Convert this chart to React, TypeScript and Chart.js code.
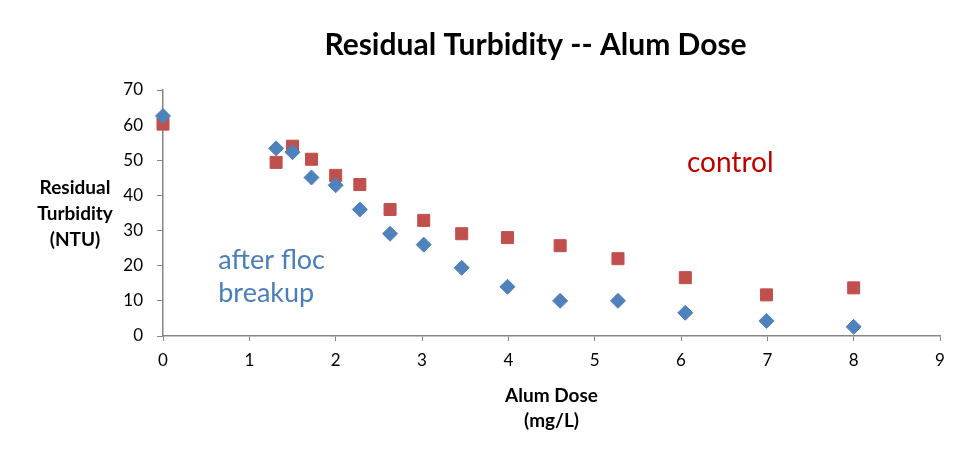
import { useEffect, useRef } from 'react';
import Chart from 'chart.js/auto';
import type { Plugin } from 'chart.js';

// alum dose (mg/L) for each jar
const doses = [0, 1.31, 1.5, 1.72, 2.0, 2.28, 2.63, 3.02, 3.46, 3.99, 4.6, 5.27, 6.05, 6.99, 8.0];

// residual turbidity (NTU)
const afterBreakup = [62.6, 53.4, 52.3, 45.1, 42.9, 36, 29.1, 26, 19.4, 14, 10, 10, 6.6, 4.3, 2.6];
const control = [60.3, 49.4, 54, 50.3, 45.7, 43.1, 36, 32.9, 29.1, 28, 25.7, 22, 16.6, 11.7, 13.7];

const chartTitle = 'Residual Turbidity -- Alum Dose';
const yTitleLines = ['Residual', 'Turbidity', '(NTU)'];
const xTitleLines = ['Alum Dose', '(mg/L)'];

const FONT = 'Lato, "Open Sans", sans-serif';
const BLUE = '#4F81BD';
const RED = '#C0504D';
const AXIS = '#868686';

// chart title, horizontal y title and the two series notes
const textPlugin: Plugin<'scatter'> = {
  id: 'texts',
  afterDraw(chart) {
    const { ctx, chartArea, scales } = chart;
    const x = scales.x;
    const y = scales.y;
    ctx.save();

    ctx.fillStyle = '#000';
    ctx.textAlign = 'center';
    ctx.textBaseline = 'middle';
    ctx.font = `bold 30px ${FONT}`;
    ctx.fillText(chartTitle, chartArea.left + (chartArea.right - chartArea.left) / 2 - 16, 45);

    ctx.font = `bold 19px ${FONT}`;
    const mid = (chartArea.top + chartArea.bottom) / 2;
    yTitleLines.forEach((line, i) => {
      ctx.fillText(line, chartArea.left - 88, mid - 25 + i * 26);
    });

    ctx.font = `28px ${FONT}`;
    ctx.fillStyle = '#C00000';
    ctx.fillText('control', x.getPixelForValue(6.57), y.getPixelForValue(49.2));

    ctx.font = `27px ${FONT}`;
    ctx.fillStyle = '#4A7EBB';
    ctx.textAlign = 'left';
    ctx.fillText('after floc', x.getPixelForValue(0.64), y.getPixelForValue(21.6));
    ctx.fillText('breakup', x.getPixelForValue(0.64), y.getPixelForValue(12.2));

    ctx.restore();
  },
};

export default function App() {
  const canvasRef = useRef<HTMLCanvasElement | null>(null);

  useEffect(() => {
    if (!canvasRef.current) {
      return;
    }

    const chart = new Chart(canvasRef.current, {
      type: 'scatter',
      data: {
        datasets: [
          {
            label: 'after floc breakup',
            data: doses.map((d, i) => ({ x: d, y: afterBreakup[i] })),
            pointStyle: 'rectRot',
            pointRadius: 7.5,
            backgroundColor: BLUE,
            borderColor: BLUE,
            borderWidth: 1,
            clip: false,
          },
          {
            label: 'control',
            data: doses.map((d, i) => ({ x: d, y: control[i] })),
            pointStyle: 'rect',
            pointRadius: 8.5,
            backgroundColor: RED,
            borderColor: RED,
            borderWidth: 1,
            clip: false,
          },
        ],
      },
      options: {
        animation: false,
        responsive: true,
        maintainAspectRatio: false,
        layout: {
          padding: { top: 90, right: 35, bottom: 0, left: 0 },
        },
        plugins: {
          legend: { display: false },
          title: { display: false },
          tooltip: { enabled: false },
        },
        scales: {
          x: {
            type: 'linear',
            min: 0,
            max: 9,
            afterFit: (scale) => {
              scale.height = 125;
            },
            ticks: {
              stepSize: 1,
              color: '#000',
              padding: 9,
              font: { family: FONT, size: 17 },
            },
            grid: {
              drawOnChartArea: false,
              drawTicks: true,
              tickLength: 5,
              color: AXIS,
            },
            border: { display: true, color: AXIS, width: 1.5 },
            title: {
              display: true,
              text: xTitleLines,
              color: '#000',
              font: { family: FONT, size: 19, weight: 'bold', lineHeight: 1.3 },
              padding: { top: 0, bottom: 28 },
            },
          },
          y: {
            min: 0,
            max: 70,
            afterFit: (scale) => {
              scale.width = 163;
            },
            ticks: {
              stepSize: 10,
              color: '#000',
              padding: 14,
              font: { family: FONT, size: 17 },
            },
            grid: {
              drawOnChartArea: false,
              drawTicks: true,
              tickLength: 6,
              color: AXIS,
            },
            border: { display: true, color: AXIS, width: 1.5 },
          },
        },
      },
      plugins: [textPlugin],
    });

    return () => {
      chart.destroy();
    };
  }, []);

  return (
    <div style={{ position: 'fixed', left: 0, top: 0, width: 975, height: 461, background: '#fff' }}>
      <canvas ref={canvasRef} />
    </div>
  );
}
